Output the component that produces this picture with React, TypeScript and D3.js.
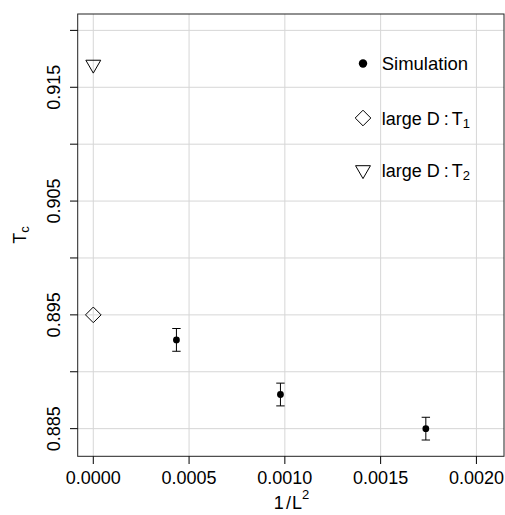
import React from "react";
import * as d3 from "d3";

const simX = [0.000434, 0.000977, 0.001736];
const simY = [0.8928, 0.888, 0.885];
const simErr = [0.001, 0.001, 0.001];
const largeDX = [0];
const largeDT1 = [0.895];
const largeDT2 = [0.917];
const xTicks = [0, 0.0005, 0.001, 0.0015, 0.002];
const yTicks = [0.885, 0.89, 0.895, 0.9, 0.905, 0.91, 0.915, 0.92];
const yLabels = [0.885, 0.895, 0.905, 0.915];
const legendItems = ["Simulation", "T1", "T2"];

const W = 505, H = 515;
const L = 77.7, R = 504, T = 14, B = 456.3;
const FONT = "'Liberation Sans', Arial, Helvetica, sans-serif";

function triDown(cx: number, cy: number, yc = 4.3) {
  const xc = yc * 1.732;
  return `M${cx - xc},${cy - yc}L${cx + xc},${cy - yc}L${cx},${cy + 2 * yc}Z`;
}
function diamond(cx: number, cy: number, r = 7.8) {
  return `M${cx},${cy - r}L${cx + r},${cy}L${cx},${cy + r}L${cx - r},${cy}Z`;
}

export default function App() {
  const x = d3.scaleLinear().domain([-0.0000814, 0.002144]).range([L, R]);
  const y = d3.scaleLinear().domain([0.88257, 0.92144]).range([B, T]);
  const fmtX = d3.format(".4f");
  const fmtY = d3.format(".3f");
  const legX = 363;
  const legTextX = 381.7;
  const rowC = [63.5, 118, 170];
  return (
    <svg width={W} height={H} style={{ position: "absolute", left: 0, top: 0, background: "#fff" }} fontFamily={FONT}>
      <rect x={0} y={0} width={W} height={H} fill="#fff" />
      {/* grid */}
      {xTicks.map((t) => (
        <line key={"gx" + t} x1={x(t)} x2={x(t)} y1={T} y2={B} stroke="#d6d6d6" strokeWidth={1} />
      ))}
      {yTicks.map((t) => (
        <line key={"gy" + t} x1={L} x2={R} y1={y(t)} y2={y(t)} stroke="#d6d6d6" strokeWidth={1} />
      ))}
      {/* box */}
      <rect x={L} y={T} width={R - L} height={B - T} fill="none" stroke="#222" strokeWidth={1} />
      {/* x ticks */}
      {xTicks.map((t) => (
        <g key={"tx" + t}>
          <line x1={x(t)} x2={x(t)} y1={B} y2={B + 7.7} stroke="#000" />
          <text x={x(t)} y={484} textAnchor="middle" fontSize={18}>{fmtX(t)}</text>
        </g>
      ))}
      {/* y ticks */}
      {yTicks.map((t) => (
        <line key={"ty" + t} x1={L - 7.7} x2={L} y1={y(t)} y2={y(t)} stroke="#000" />
      ))}
      {yLabels.map((t) => (
        <text key={"ly" + t} transform={`translate(60,${y(t)}) rotate(-90)`} textAnchor="middle" fontSize={18}>
          {fmtY(t)}
        </text>
      ))}
      {/* axis titles */}
      <text x={291.5} y={509} textAnchor="middle" fontSize={18}>
        1
        <tspan dx={2}>/</tspan>
        <tspan dx={1}>L</tspan>
        <tspan fontSize={13} dy={-10}>2</tspan>
      </text>
      <text transform={`translate(26,235) rotate(-90)`} textAnchor="middle" fontSize={18}>
        T<tspan fontSize={13} dy={3} dx={0}>c</tspan>
      </text>
      {/* simulation error bars and points */}
      {simX.map((v, i) => (
        <g key={"s" + i}>
          <line x1={x(v)} x2={x(v)} y1={y(simY[i] - simErr[i])} y2={y(simY[i] + simErr[i])} stroke="#000" />
          <line x1={x(v) - 4.2} x2={x(v) + 4.2} y1={y(simY[i] - simErr[i])} y2={y(simY[i] - simErr[i])} stroke="#000" />
          <line x1={x(v) - 4.2} x2={x(v) + 4.2} y1={y(simY[i] + simErr[i])} y2={y(simY[i] + simErr[i])} stroke="#000" />
          <circle cx={x(v)} cy={y(simY[i])} r={3.4} fill="#000" />
        </g>
      ))}
      {largeDX.map((v, i) => (
        <path key={"d1" + i} d={diamond(x(v), y(largeDT1[i]))} fill="none" stroke="#000" strokeWidth={1} />
      ))}
      {largeDX.map((v, i) => (
        <path key={"d2" + i} d={triDown(x(v), y(largeDT2[i]))} fill="none" stroke="#000" strokeWidth={1} />
      ))}
      {/* legend */}
      <circle cx={legX} cy={rowC[0]} r={4.2} fill="#000" />
      <text x={legTextX} y={rowC[0] + 6.7} fontSize={18.5}>{legendItems[0]}</text>
      <path d={diamond(legX, rowC[1])} fill="none" stroke="#000" />
      <text x={legTextX} y={rowC[1] + 6.5} fontSize={18}>
        large D<tspan dx={4}>:</tspan>
        <tspan dx={3}>T</tspan>
        <tspan fontSize={13} dy={3.5}>1</tspan>
      </text>
      <path d={triDown(legX, rowC[2])} fill="none" stroke="#000" />
      <text x={legTextX} y={rowC[2] + 6.5} fontSize={18}>
        large D<tspan dx={4}>:</tspan>
        <tspan dx={3}>T</tspan>
        <tspan fontSize={13} dy={3.5}>2</tspan>
      </text>
    </svg>
  );
}
